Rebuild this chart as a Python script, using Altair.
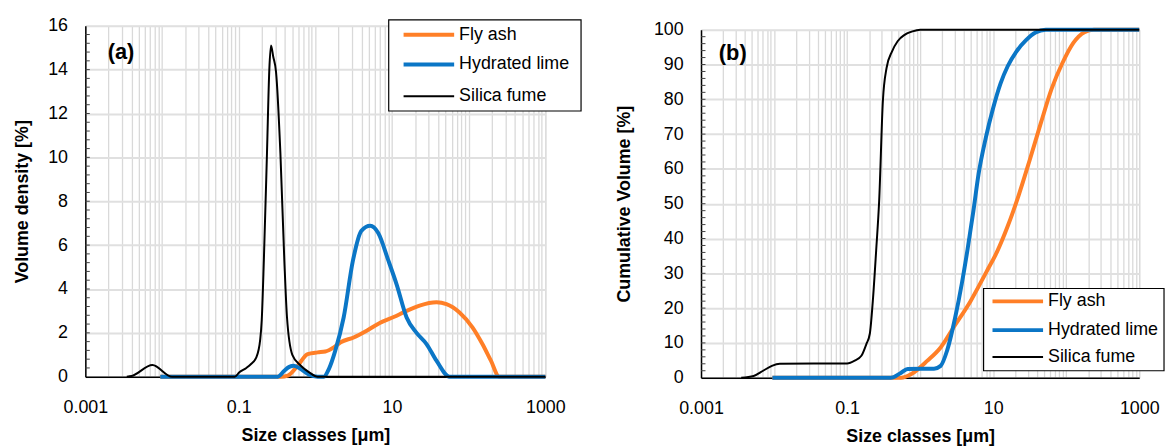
import altair as alt
import pandas as pd

FONT = "Liberation Sans"
SERIES = ["Fly ash", "Hydrated lime", "Silica fume"]
COLORS = ["#FF7F27", "#0B76C6", "#000000"]
WIDTHS = [4, 4, 2]

# ---------- panel (a): volume density ----------
fa_dens_x = [0.0095, 0.355, 0.437, 0.589, 0.794, 1.07, 1.35, 1.74, 2.14, 3.16, 4.68, 6.92,
             10.5, 15.5, 22.9, 38.0, 51.3, 75.9, 112, 151, 195, 251, 1000]
fa_dens_y = [0, 0, 0.05, 0.5, 1.03, 1.11, 1.15, 1.34, 1.57, 1.79, 2.1, 2.45,
             2.72, 3.0, 3.24, 3.39, 3.31, 2.93, 2.25, 1.49, 0.73, 0, 0]

hl_dens_x = [0.0095, 0.324, 0.394, 0.457, 0.525, 0.646, 0.832, 1.07, 1.29, 1.50, 1.82, 2.34,
             3.09, 3.98, 5.20, 6.61, 8.97, 11.5, 15.5, 20.9, 28.2, 38.0, 56.2, 1000]
hl_dens_y = [0, 0, 0.27, 0.45, 0.5, 0.35, 0.09, 0, 0, 0.35, 1.19, 2.7,
             5.29, 6.65, 6.88, 6.55, 5.29, 4.2, 2.7, 2.0, 1.49, 0.73, 0, 0]

sf_dens_x = [0.00347, 0.004, 0.0075, 0.0135, 0.0891, 0.102, 0.126, 0.145, 0.170, 0.191,
             0.200, 0.213, 0.234, 0.251, 0.264, 0.282, 0.307, 0.350, 0.394, 0.427, 0.501,
             0.646, 0.832, 1.07, 1000]
sf_dens_y = [0, 0.03, 0.53, 0, 0, 0.2, 0.4, 0.58, 0.88, 1.7,
             2.6, 5.3, 10.2, 14.0, 15.1, 14.6, 13.9, 10.2, 5.3, 2.7, 1.0,
             0.5, 0.2, 0, 0]

# ---------- panel (b): cumulative volume ----------
fa_cum_x = [0.0095, 0.55, 0.75, 1.26, 1.91, 2.88, 4.9, 8.13, 11.2, 15.8, 22.4, 31.6,
            44.7, 63.1, 89.1, 126, 178, 240, 1000]
fa_cum_y = [0, 0, 1.0, 4.9, 8.7, 14.5, 22, 30.5, 36, 43.5, 52.5, 62.5,
            73, 83, 90.5, 96.3, 99.3, 100, 100]

hl_cum_x = [0.0095, 0.398, 0.537, 0.676, 1.55, 1.91, 2.34, 3.02, 3.72, 4.47, 5.37, 6.31,
            7.94, 10.0, 12.6, 15.8, 20.9, 28.2, 38.0, 52.5, 1000]
hl_cum_y = [0, 0, 1.3, 2.5, 2.6, 3.4, 7.8, 17.3, 27, 37, 48, 58.5,
            69, 77.5, 84.5, 89.5, 93.8, 97, 99.2, 100, 100]

sf_cum_x = [0.00355, 0.00525, 0.00708, 0.00933, 0.012, 0.1, 0.127, 0.157, 0.183, 0.205,
            0.225, 0.25, 0.275, 0.309, 0.347, 0.413, 0.492, 0.621, 0.879, 1.0, 1000]
sf_cum_y = [0, 0.5, 2.0, 3.4, 4.0, 4.1, 4.9, 6.3, 9.6, 12.7,
            22, 36.5, 50.9, 79.5, 89, 93.8, 96.7, 98.6, 99.8, 100, 100]

x_labels = [0.001, 0.1, 10, 1000]
x_grid = [float(f"{m}e{k}") for k in range(-3, 3) for m in range(1, 10)] + [1000.0]

dens_ticks = [0, 2, 4, 6, 8, 10, 12, 14, 16]
dens_minor = [round(0.4 * i, 1) for i in range(1, 40)]
cum_ticks = [0, 10, 20, 30, 40, 50, 60, 70, 80, 90, 100]
cum_minor = [2 * i for i in range(1, 50)]


def long_df(xs, ys):
    rows = []
    for s, c, w, x, y in zip(SERIES, COLORS, WIDTHS, xs, ys):
        rows += [{"series": s, "col": c, "w": w, "x": a, "y": b} for a, b in zip(x, y)]
    return pd.DataFrame(rows)


def panel(df, ymax, yticks, yminor, ytitle, tag, tagpos, leg, w, h, title_pad):
    xscale = alt.Scale(type="log", domain=[0.001, 1000], nice=False)
    yscale = alt.Scale(domain=[0, ymax], nice=False)
    xaxis = alt.Axis(
        values=x_grid, ticks=False, grid=True, gridColor="#d9d9d9", gridWidth=1.3,
        labelExpr="indexof([0.001, 0.1, 10, 1000], datum.value) >= 0 ? format(datum.value, '~g') : ''",
        labelOverlap=False, labelFlush=False, labelFont=FONT, labelFontSize=18,
        labelColor="black", labelPadding=22, domainColor="black", domainWidth=1.5,
        title="Size classes [μm]", titleFont=FONT, titleFontSize=18,
        titleFontWeight="bold", titleColor="black", titlePadding=10)
    yaxis = alt.Axis(
        values=yticks, ticks=False, grid=True, gridColor="#e0e0e0", gridWidth=2,
        labelFont=FONT, labelFontSize=18, labelColor="black", labelPadding=18,
        domainColor="black", domainWidth=1.5, title=ytitle, titleFont=FONT,
        titleFontSize=18, titleFontWeight="bold", titleColor="black",
        titlePadding=title_pad)
    minor = alt.Chart(pd.DataFrame({"v": yminor})).mark_rule(
        color="#404040", strokeWidth=1).encode(
        y=alt.Y("v:Q", scale=yscale, axis=yaxis, title=ytitle),
        x=alt.value(0), x2=alt.value(4.5))
    lines = alt.Chart(df).mark_line(interpolate="monotone").encode(
        x=alt.X("x:Q", scale=xscale, axis=xaxis, title="Size classes [μm]"),
        y=alt.Y("y:Q", scale=yscale, axis=yaxis, title=ytitle),
        color=alt.Color("col:N", scale=None),
        strokeWidth=alt.StrokeWidth("w:Q", scale=None),
        detail="series:N",
        order=alt.Order("x:Q"),
    )
    label = alt.Chart(pd.DataFrame({"t": [tag]})).mark_text(
        font=FONT, fontSize=22, fontWeight="bold", color="black", align="center",
        baseline="middle").encode(text="t:N", x=alt.value(tagpos[0]), y=alt.value(tagpos[1]))
    bx0, bx1, by0, by1, lx0, lx1, tx, rows = leg
    box = alt.Chart(pd.DataFrame({"a": [0]})).mark_rect(
        fill="white", stroke="black", strokeWidth=1.2).encode(
        x=alt.value(bx0), x2=alt.value(bx1), y=alt.value(by0), y2=alt.value(by1))
    layers = [minor, lines, label, box]
    for s, c, sw, ry in zip(SERIES, COLORS, WIDTHS, rows):
        one = pd.DataFrame({"s": [s]})
        layers.append(alt.Chart(one).mark_rule(color=c, strokeWidth=sw).encode(
            x=alt.value(lx0), x2=alt.value(lx1), y=alt.value(ry)))
        layers.append(alt.Chart(one).mark_text(
            font=FONT, fontSize=18, color="black", align="left", baseline="middle").encode(
            text="s:N", x=alt.value(tx), y=alt.value(ry)))
    return alt.layer(*layers).properties(width=w, height=h)


def spacer(w, h):
    return alt.Chart(pd.DataFrame({"a": [0]})).mark_rule(strokeOpacity=0).encode(
        x=alt.value(0), x2=alt.value(1), y=alt.value(0)
    ).properties(width=w, height=h, view=alt.ViewBackground(stroke=None))


left = panel(long_df([fa_dens_x, hl_dens_x, sf_dens_x], [fa_dens_y, hl_dens_y, sf_dens_y]),
             16, dens_ticks, dens_minor, "Volume density [%]", "(a)", (36, 27),
             (306, 500, -6, 86, 321, 372, 377, [9, 39, 71]), 464, 354, 16)
right = panel(long_df([fa_cum_x, hl_cum_x, sf_cum_x], [fa_cum_y, hl_cum_y, sf_cum_y]),
              100, cum_ticks, cum_minor, "Cumulative Volume [%]", "(b)", (32, 24),
              (285, 467, 261, 344, 294, 345, 350, [274, 303, 330]), 442, 351, 20)

left_col = alt.vconcat(spacer(464, 1), left, spacing=0)
right_col = alt.vconcat(spacer(442, 5), right, spacing=0)

chart = alt.hconcat(left_col, right_col, spacing=32).properties(
    padding={"left": 5, "top": 5, "right": 0, "bottom": 0}
).configure_view(stroke="#404040", strokeWidth=1.5).configure(font=FONT)

chart.save("out.html", embed_options={"renderer": "svg", "actions": False})
